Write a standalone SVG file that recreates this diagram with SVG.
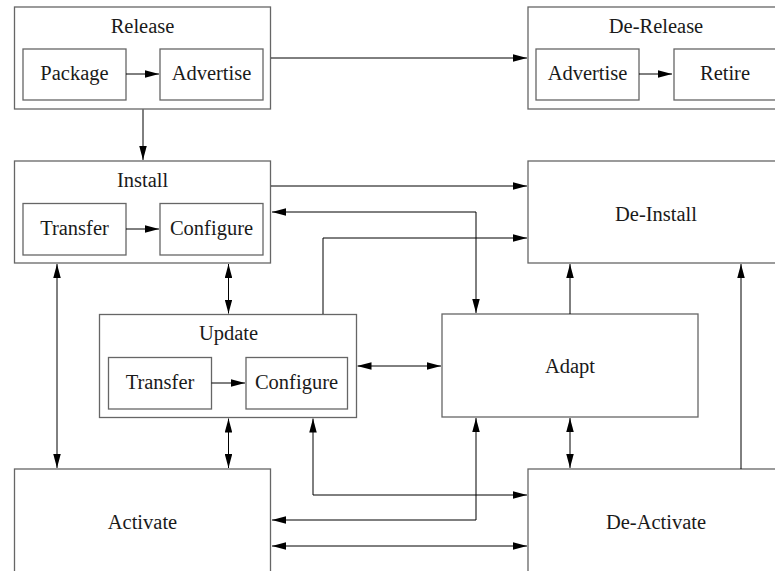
<svg xmlns="http://www.w3.org/2000/svg" width="775" height="571" viewBox="0 0 775 571">
<defs>
<marker id="ah" viewBox="0 0 14 7.5" refX="14" refY="3.75" markerWidth="14" markerHeight="7.5" markerUnits="userSpaceOnUse" orient="auto-start-reverse">
<path d="M0,0 L14,3.75 L0,7.5 z" fill="#000"/>
</marker>
<style>
.box{fill:none;stroke:#666;stroke-width:1.3}
.t{font-family:"Liberation Serif","Times New Roman",serif;font-size:20.5px;fill:#1a1a1a;text-anchor:middle}
.c{fill:none;stroke:#000;stroke-width:1}
.e{marker-end:url(#ah)}
.b{marker-start:url(#ah);marker-end:url(#ah)}
</style>
</defs>
<rect width="775" height="571" fill="#fff"/>
<g id="release">
<rect class="box" x="14.5" y="7" width="256" height="102"/>
<text class="t" x="142.5" y="33">Release</text>
<rect class="box" x="23" y="49" width="103" height="51"/>
<text class="t" x="74.5" y="80">Package</text>
<rect class="box" x="160" y="49" width="103" height="51"/>
<text class="t" x="211.5" y="80">Advertise</text>
</g>
<g id="de-release">
<rect class="box" x="528" y="7" width="256" height="102"/>
<text class="t" x="656" y="33">De-Release</text>
<rect class="box" x="536" y="49" width="103" height="51"/>
<text class="t" x="587.5" y="80">Advertise</text>
<rect class="box" x="674" y="49" width="103" height="51"/>
<text class="t" x="725" y="80">Retire</text>
</g>
<g id="install">
<rect class="box" x="14.5" y="161" width="256" height="102"/>
<text class="t" x="142.5" y="187">Install</text>
<rect class="box" x="23" y="203.5" width="103" height="51.5"/>
<text class="t" x="74.5" y="235">Transfer</text>
<rect class="box" x="160" y="203.5" width="103" height="51.5"/>
<text class="t" x="211.5" y="235">Configure</text>
</g>
<g id="de-install">
<rect class="box" x="528" y="161" width="256" height="102"/>
<text class="t" x="656" y="221">De-Install</text>
</g>
<g id="update">
<rect class="box" x="99.5" y="314.5" width="257" height="103"/>
<text class="t" x="228.5" y="340">Update</text>
<rect class="box" x="108.5" y="357.5" width="103" height="51.5"/>
<text class="t" x="160" y="388.5">Transfer</text>
<rect class="box" x="246" y="357.5" width="101.5" height="51.5"/>
<text class="t" x="296.5" y="388.5">Configure</text>
</g>
<g id="adapt">
<rect class="box" x="442" y="314" width="256" height="103"/>
<text class="t" x="570" y="373">Adapt</text>
</g>
<g id="activate">
<rect class="box" x="14.5" y="469" width="256" height="110"/>
<text class="t" x="142.5" y="529">Activate</text>
</g>
<g id="de-activate">
<rect class="box" x="528" y="469" width="256" height="110"/>
<text class="t" x="656" y="529">De-Activate</text>
</g>
<g id="connectors">
<path class="c e" d="M126,74 H159"/>
<path class="c e" d="M639,74 H672"/>
<path class="c e" d="M126,229 H159"/>
<path class="c e" d="M211.5,383 H245"/>
<path class="c e" d="M271,58 H527"/>
<path class="c e" d="M143,109.5 V160"/>
<path class="c e" d="M271,186 H527"/>
<path class="c b" d="M272,212 H476 V313"/>
<path class="c e" d="M323,314 V238 H527"/>
<path class="c e" d="M570,314 V264"/>
<path class="c e" d="M741,469 V264"/>
<path class="c b" d="M228.5,264 V313.5"/>
<path class="c b" d="M57,264 V468"/>
<path class="c b" d="M357.5,366 H441"/>
<path class="c b" d="M228.5,418.5 V468"/>
<path class="c b" d="M313,418.5 V495 H527"/>
<path class="c b" d="M476,418 V520 H272"/>
<path class="c b" d="M570,418 V468"/>
<path class="c b" d="M272,546 H527"/>
</g>
</svg>
